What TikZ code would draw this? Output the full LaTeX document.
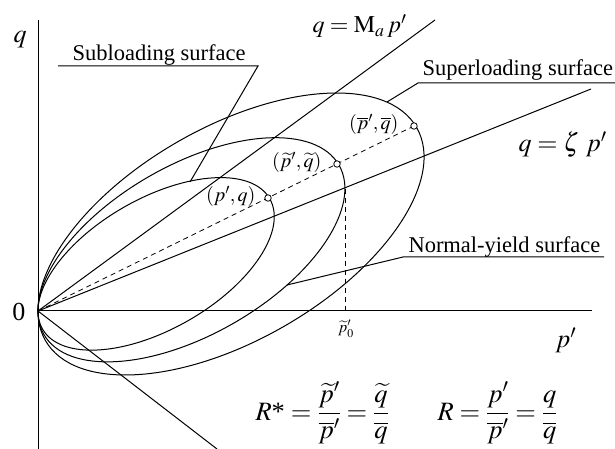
\documentclass[tikz,border=0pt]{standalone}
\usepackage{amsmath}
\usepackage{mathptmx}
\usepackage[no-math]{fontspec}
\setmainfont{Liberation Serif}
\begin{document}
\begin{tikzpicture}[x=1pt,y=1pt,line width=1pt,
  surflab/.style={font=\fontsize{22.5}{26}\selectfont, inner sep=0pt},
  axlab/.style={font=\fontsize{26}{30}\selectfont, inner sep=0pt},
  eqlab/.style={font=\fontsize{24}{28}\selectfont, inner sep=0pt},
  zlab/.style={font=\fontsize{26}{30}\selectfont, inner sep=0pt},
  fraclab/.style={font=\fontsize{26.5}{30}\selectfont, inner sep=0pt},
  ptlab/.style={font=\fontsize{20}{24}\selectfont, inner sep=0pt},
  smalllab/.style={font=\fontsize{16}{19}\selectfont, inner sep=0pt},
  dashline/.style={dash pattern=on 5pt off 4pt, line width=0.8pt},
  pointdot/.style={circle, draw, fill=white, minimum size=6.5pt, inner sep=0pt, line width=0.8pt}]
\useasboundingbox (0,0) rectangle (615,449);
% axes
\coordinate (O) at (38,138);
\coordinate (ytop) at (38,429);
\coordinate (ybot) at (38,0);
\coordinate (xend) at (592,138);
\draw (ytop) -- (ybot);
\draw (O) -- (xend);
% straight lines
\coordinate (Ma) at (435,429);
\coordinate (Ze) at (591,360);
\coordinate (Lo) at (217,0);
\draw (O) -- (Ma);
\draw (O) -- (Ze);
\draw (O) -- (Lo);
% ellipses (homothetic about O)
\foreach \s in {1,0.795,0.612}
  \draw[shift={(38,138)}, scale=\s, shift={(193,77)}, rotate=29.85]
    (0,0) ellipse [x radius=214, y radius=106.5];
% dashed lines
\coordinate (Pbar) at (414,323);
\coordinate (Ptil) at (337,285);
\coordinate (Pp) at (268,251);
\draw[dashline] (O) -- (Pbar);
\coordinate (Vtop) at (345,260);
\coordinate (Vbot) at (345,138);
\draw[dashline] (Vtop) -- (Vbot);
\node[pointdot] (dbar) at (Pbar) {};
\node[pointdot] (dtil) at (Ptil) {};
\node[pointdot] (dp) at (Pp) {};
% leaders
\coordinate (subA) at (58,383);
\coordinate (subB) at (258,383);
\coordinate (subC) at (190,267);
\draw (subA) -- (subB) -- (subC);
\coordinate (supA) at (615,366);
\coordinate (supB) at (418,366);
\coordinate (supC) at (387,347);
\draw (supA) -- (supB) -- (supC);
\coordinate (norA) at (604,192);
\coordinate (norB) at (403,192);
\coordinate (norC) at (287,164);
\draw (norA) -- (norB) -- (norC);
% texts
\node[axlab, anchor=base] (qlab) at (20,406) {$q$};
\node[axlab] (zero) at (19,137.5) {0};
\node[axlab, anchor=base west] (plab) at (555,101) {$p'$};
\node[eqlab, anchor=base west] (malab) at (312,416) {$q=\mathrm{M}_a\,p'$};
\node[zlab, anchor=base west] (zlabel) at (518,297) {$q=\zeta\ p'$};
\node[surflab, anchor=base west] (sub) at (72,388) {Subloading surface};
\node[surflab, anchor=base west] (sup) at (422,373) {Superloading surface};
\node[surflab, anchor=base west] (nor) at (408,196) {Normal-yield surface};
\node[ptlab, anchor=base east] (lp) at (256,247) {$(p',q)$};
\node[ptlab, anchor=base east] (ltil) at (322,281) {$(\widetilde{p}',\widetilde{q})$};
\node[ptlab, anchor=base east] (lbar) at (399,319) {$(\overline{p}',\overline{q})$};
\node[smalllab] (p0) at (346,120) {$\widetilde{p}'_0$};
\node[fraclab, anchor=west] (Rstar) at (255,36) {$R\mbox{*}=\dfrac{\widetilde{p}'}{\overline{p}'}=\dfrac{\widetilde{q}}{\overline{q}}$};
\node[fraclab, anchor=west] (Rr) at (437,36) {$R=\dfrac{p'}{\overline{p}'}=\dfrac{q}{\overline{q}}$};
\end{tikzpicture}
\end{document}
